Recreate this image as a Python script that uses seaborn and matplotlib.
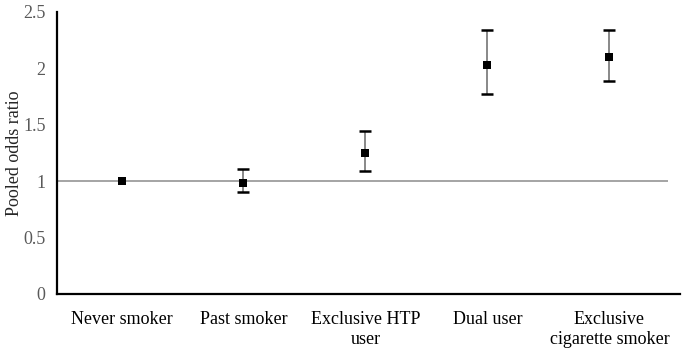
import matplotlib
matplotlib.use("Agg")
import matplotlib.pyplot as plt
import numpy as np
import pandas as pd
import seaborn as sns

groups = ["Never smoker", "Past smoker", "Exclusive HTP\nuser", "Dual user",
          "Exclusive\ncigarette smoker"]
odds_ratio = [1.00, 0.98, 1.25, 2.03, 2.10]
ci_low = [np.nan, 0.90, 1.09, 1.77, 1.89]
ci_high = [np.nan, 1.11, 1.44, 2.34, 2.34]

df = pd.DataFrame({"group": groups, "or": odds_ratio, "lo": ci_low, "hi": ci_high})
df["pos"] = np.arange(len(df))

sns.set_style("white")
plt.rcParams["font.family"] = ["Liberation Serif", "DejaVu Serif"]

fig = plt.figure(figsize=(6.85, 3.49), dpi=100)
ax = fig.add_axes([0.083, 0.158, 0.91, 0.808])

# reference line at OR = 1
ax.hlines(1, -0.53, 4.48, color="#8c8c8c", linewidth=1.1, zorder=1)

eb = ax.errorbar(df["pos"], df["or"],
                 yerr=[df["or"] - df["lo"], df["hi"] - df["or"]],
                 fmt="none", ecolor="#7f7f7f", elinewidth=1.3,
                 capsize=4, capthick=1.8, zorder=2)
for cap in eb[1]:
    cap.set_markeredgecolor("black")
    cap.set_markerfacecolor("black")

sns.scatterplot(data=df, x="pos", y="or", marker="s", s=36, color="black",
                edgecolor="black", linewidth=0, ax=ax, zorder=3)

ax.set_xlim(-0.53, 4.58)
ax.set_ylim(0, 2.5)
ax.set_yticks([0, 0.5, 1, 1.5, 2, 2.5])
ax.set_yticklabels(["0", "0.5", "1", "1.5", "2", "2.5"])
ax.set_xticks(df["pos"])
ax.set_xticklabels(groups, fontsize=13, color="black", linespacing=1.3)
ax.tick_params(axis="y", labelsize=13, labelcolor="#595959", length=0, pad=8)
ax.tick_params(axis="x", length=0, pad=12)

ax.set_xlabel("")
ax.set_ylabel("Pooled odds ratio", fontsize=13)
ax.yaxis.set_label_coords(-0.054, 0.5)

for side in ["top", "right"]:
    ax.spines[side].set_visible(False)
for side in ["left", "bottom"]:
    ax.spines[side].set_color("black")
    ax.spines[side].set_linewidth(1.6)

fig.savefig("out.png", dpi=100)
